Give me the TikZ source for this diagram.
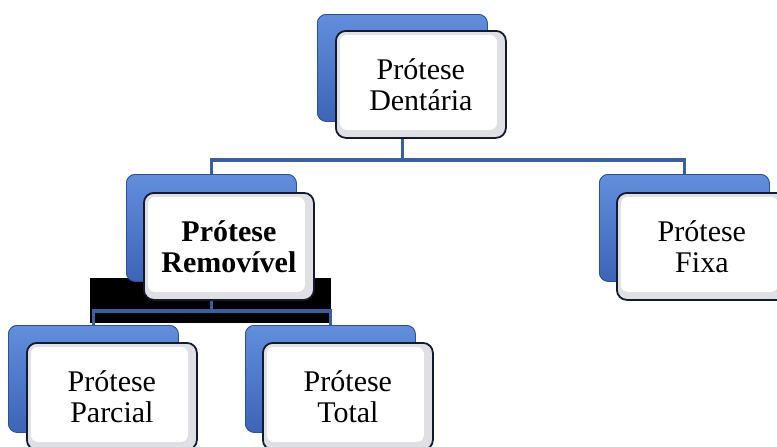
\documentclass[tikz,border=0pt]{standalone}
\usepackage{fontspec}
\setmainfont{Liberation Serif}
\definecolor{connblue}{RGB}{58,94,160}
\definecolor{backtop}{RGB}{98,142,220}
\definecolor{backbot}{RGB}{60,100,184}
\definecolor{backedge}{RGB}{46,80,150}
\definecolor{frontedge}{RGB}{18,26,48}
\definecolor{bevel}{RGB}{224,224,228}
\tikzset{
  backbox/.style={anchor=north west, minimum width=170pt, minimum height=107pt, inner sep=0pt,
    rounded corners=9pt, draw=backedge, line width=0.8pt, top color=backtop, bottom color=backbot},
  frontbox/.style={anchor=north west, minimum width=170pt, minimum height=107pt, inner sep=0pt,
    rounded corners=10pt, draw=frontedge, line width=1.8pt, fill=bevel,
    align=center, font=\fontsize{30}{31}\selectfont,
    path picture={\fill[white, rounded corners=7pt]
      ([shift={(4pt,-4pt)}]path picture bounding box.north west) rectangle
      ([shift={(-9pt,8pt)}]path picture bounding box.south east);}},
  conn/.style={draw=connblue, line width=3.5pt}
}
\begin{document}
\begin{tikzpicture}[x=1pt,y=-1pt]
\useasboundingbox (0,0) rectangle (777,447);
\fill[black] (90,278) rectangle (331,323);
% back boxes
\node[backbox] (Dback) at (317,14) {};
\node[backbox] (Rback) at (126,174) {};
\node[backbox] (Fback) at (599,174) {};
\node[backbox] (Pback) at (8,325) {};
\node[backbox] (Tback) at (245,325) {};
% connectors
\coordinate (bus) at (0,160);
\coordinate (busR) at (0,311);
\draw[conn] (Dback.south) -- (Dback.south |- bus) -| (Rback.north);
\draw[conn] (Dback.south |- bus) -| (Fback.north);
\draw[conn] (Rback.south) -- (Rback.south |- busR) -| (Pback.north);
\draw[conn] (Rback.south |- busR) -| (Tback.north);
% redraw back boxes over connector ends
\node[backbox] at (317,14) {};
\node[backbox] at (126,174) {};
\node[backbox] at (599,174) {};
\node[backbox] at (8,325) {};
\node[backbox] at (245,325) {};
% front boxes
\node[frontbox] (D) at (335,30) {Prótese\\Dentária};
\node[frontbox] (R) at (143,192) {\bfseries Prótese\\\bfseries Removível};
\node[frontbox] (F) at (616,192) {Prótese\\Fixa};
\node[frontbox] (P) at (26,342) {Prótese\\Parcial};
\node[frontbox] (T) at (262,342) {Prótese\\Total};
\end{tikzpicture}
\end{document}
